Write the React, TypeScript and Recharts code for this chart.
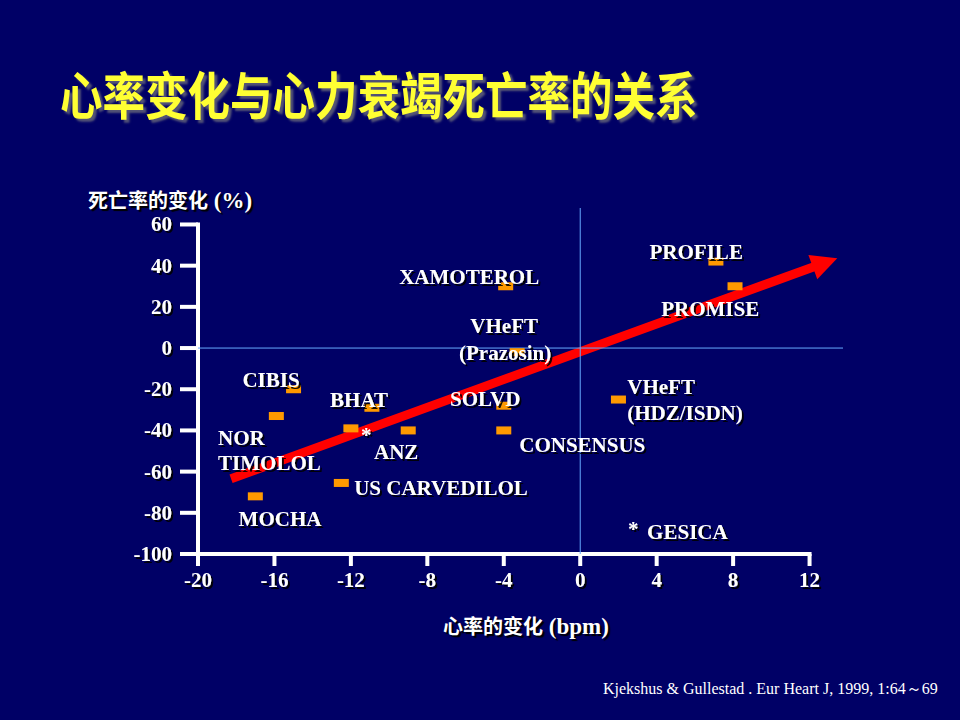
import React from 'react';
import { ScatterChart, Scatter, XAxis, YAxis, ReferenceLine, ReferenceDot } from 'recharts';

// ---- data ----
const xTicks = [-20, -16, -12, -8, -4, 0, 4, 8, 12];
const yTicks = [-100, -80, -60, -40, -20, 0, 20, 40, 60];

const trials = ['PROFILE', 'PROMISE', 'XAMOTEROL', 'VHeFT (Prazosin)', 'CIBIS', 'NOR TIMOLOL', 'BHAT', 'SOLVD', 'CONSENSUS', 'ANZ', 'ANZ*', 'MOCHA', 'US CARVEDILOL', 'VHeFT (HDZ/ISDN)'];
const heartRateChange = [7.1, 8.1, -3.9, -3.3, -15, -15.9, -10.9, -4, -4, -9, -12, -17, -12.5, 2];
const mortalityChange = [42, 30, 30, -2, -20, -33, -29, -28, -40, -40, -39, -72, -65.5, -25];

const labelTexts = ['PROFILE', 'PROMISE', 'XAMOTEROL', 'VHeFT', '(Prazosin)', 'CIBIS', 'BHAT', 'SOLVD', 'NOR', 'TIMOLOL', 'ANZ', '*', 'CONSENSUS', 'US CARVEDILOL', 'MOCHA', 'VHeFT', '(HDZ/ISDN)', '*', 'GESICA'];
const labelX = [6.07, 6.8, -5.81, -3.98, -3.93, -16.18, -11.57, -4.97, -18.95, -18.95, -9.63, -11.2, -3.19, -11.83, -15.71, 2.46, 2.46, 2.77, 3.5];
const labelY = [46.5, 18.9, 34.4, 10.7, -2.4, -15.5, -25.2, -24.7, -43.6, -55.7, -50.4, -42.2, -47, -67.9, -82.9, -18.9, -31.5, -87.7, -89.2];
const labelAlign = ['middle', 'middle', 'middle', 'middle', 'middle', 'middle', 'middle', 'middle', 'start', 'start', 'middle', 'middle', 'start', 'start', 'middle', 'start', 'start', 'middle', 'start'];

const trendStart = { x: -18.27, y: -63.5 };
const trendEnd = { x: 13.45, y: 43.6 };

const titleText = '心率变化与心力衰竭死亡率的关系';
const yTitleCjk = '死亡率的变化';
const yTitleUnit = ' (%)';
const xTitleCjk = '心率的变化';
const xTitleUnit = ' (bpm)';
const citation = 'Kjekshus & Gullestad . Eur Heart J, 1999, 1:64～69';

// ---- build ----
const points = trials.map((name, i) => ({ name, x: heartRateChange[i], y: mortalityChange[i] }));
const labels = labelTexts.map((text, i) => ({ text, x: labelX[i], y: labelY[i], align: labelAlign[i] }));

const BG = '#000066';
const SERIF = "'Liberation Serif', 'Times New Roman', 'Noto Sans CJK SC', serif";

const YTick = (p: any) => (
  <text x={p.x} y={p.y} textAnchor="end" dominantBaseline="central" fill="#fff" fontSize={21} fontWeight="bold" fontFamily={SERIF} filter="url(#sh)">
    {p.payload.value}
  </text>
);
const XTick = (p: any) => (
  <text x={p.x} y={p.y + 12} textAnchor="middle" dominantBaseline="central" fill="#fff" fontSize={21} fontWeight="bold" fontFamily={SERIF} filter="url(#sh)">
    {p.payload.value}
  </text>
);

const Marker = (p: any) => <rect x={p.cx - 7.5} y={p.cy - 4} width={15} height={8} fill="#FF9900" />;

const Arrow = (p: any) => {
  const { x1, y1, x2, y2 } = p;
  const dx = x2 - x1;
  const dy = y2 - y1;
  const len = Math.sqrt(dx * dx + dy * dy);
  const ux = dx / len;
  const uy = dy / len;
  const hl = 26;
  const hw = 13;
  const bx = x2 - ux * hl;
  const by = y2 - uy * hl;
  const nx = -uy;
  const ny = ux;
  return (
    <g>
      <line x1={x1} y1={y1} x2={bx + ux * 2} y2={by + uy * 2} stroke="#FF0000" strokeWidth={9} />
      <polygon points={`${x2},${y2} ${bx + nx * hw},${by + ny * hw} ${bx - nx * hw},${by - ny * hw}`} fill="#FF0000" />
    </g>
  );
};

const Label = (text: string, align: string) => (p: any) => (
  <text x={p.cx} y={p.cy} textAnchor={align as any} dominantBaseline="central" fill="#fff" fontSize={21} fontWeight="bold" fontFamily={SERIF} filter="url(#sh)">
    {text}
  </text>
);

const axisTitleStyle: React.CSSProperties = {
  position: 'absolute',
  lineHeight: '26px',
  fontWeight: 700,
  color: '#fff',
  whiteSpace: 'nowrap',
  textShadow: '2px 2px 1px #000',
};

export default function App() {
  return (
    <div style={{ position: 'fixed', left: 0, top: 0, width: 960, height: 720, background: BG, overflow: 'hidden' }}>
      <svg width={0} height={0} style={{ position: 'absolute' }}>
        <defs>
          <filter id="sh" x="-20%" y="-30%" width="140%" height="160%">
            <feDropShadow dx={2} dy={2} stdDeviation={0.6} floodColor="#000000" floodOpacity={0.9} />
          </filter>
        </defs>
      </svg>
      <div
        style={{
          position: 'absolute',
          left: 60,
          top: 68,
          height: 50,
          lineHeight: '50px',
          fontSize: 42.5,
          fontWeight: 700,
          fontFamily: "'Noto Sans CJK SC', sans-serif",
          color: '#FFFF33',
          whiteSpace: 'nowrap',
          transform: 'scaleY(1.2)',
          transformOrigin: 'left center',
          textShadow: '3px 3px 2px #555577',
        }}
      >
        {titleText}
      </div>
      <div style={{ ...axisTitleStyle, left: 88, top: 187 }}>
        <span style={{ fontFamily: "'Noto Sans CJK SC', sans-serif", fontSize: 20 }}>{yTitleCjk}</span>
        <span style={{ fontFamily: "'Liberation Serif', serif", fontSize: 23 }}>{yTitleUnit}</span>
      </div>
      <div style={{ ...axisTitleStyle, left: 443, top: 613 }}>
        <span style={{ fontFamily: "'Noto Sans CJK SC', sans-serif", fontSize: 20 }}>{xTitleCjk}</span>
        <span style={{ fontFamily: "'Liberation Serif', serif", fontSize: 23 }}>{xTitleUnit}</span>
      </div>
      <div
        style={{
          position: 'absolute',
          left: 603,
          top: 679,
          lineHeight: '20px',
          fontSize: 16,
          fontFamily: "'Liberation Serif', serif",
          color: '#fff',
          whiteSpace: 'nowrap',
        }}
      >
        {citation}
      </div>
      <div style={{ position: 'absolute', left: 0, top: 0 }}>
        <ScatterChart width={960} height={720} margin={{ top: 208, right: 117, bottom: 136, left: 138 }}>
          <XAxis
            type="number"
            dataKey="x"
            domain={[-20, 13.75]}
            ticks={xTicks}
            allowDataOverflow
            axisLine={false}
            tickLine={{ stroke: '#fff', strokeWidth: 4 }}
            tickSize={12}
            tickMargin={2}
            tick={XTick}
            height={30}
            interval={0}
          />
          <YAxis
            type="number"
            dataKey="y"
            domain={[-100, 68]}
            ticks={yTicks}
            allowDataOverflow
            axisLine={false}
            tickLine={{ stroke: '#fff', strokeWidth: 4 }}
            tickSize={18}
            tickMargin={8}
            tick={YTick}
            width={60}
            interval={0}
          />
          <ReferenceLine
            segment={[{ x: -20, y: -100 }, { x: -20, y: 60 }]}
            stroke="#fff"
            strokeWidth={4}
            strokeLinecap="square"
            ifOverflow="visible"
          />
          <ReferenceLine
            segment={[{ x: -20, y: -100 }, { x: 12, y: -100 }]}
            stroke="#fff"
            strokeWidth={4}
            strokeLinecap="square"
            ifOverflow="visible"
          />
          <Scatter data={points} shape={Marker} isAnimationActive={false} />
          {labels.map((l, i) => (
            <ReferenceDot key={i} x={l.x} y={l.y} r={0} ifOverflow="visible" shape={Label(l.text, l.align)} />
          ))}
          <ReferenceLine segment={[trendStart, trendEnd]} ifOverflow="visible" shape={Arrow} />
          <ReferenceLine x={0} stroke="#66AAFF" strokeWidth={1} ifOverflow="visible" />
          <ReferenceLine y={0} stroke="#66AAFF" strokeWidth={1} ifOverflow="visible" />
        </ScatterChart>
      </div>
    </div>
  );
}
